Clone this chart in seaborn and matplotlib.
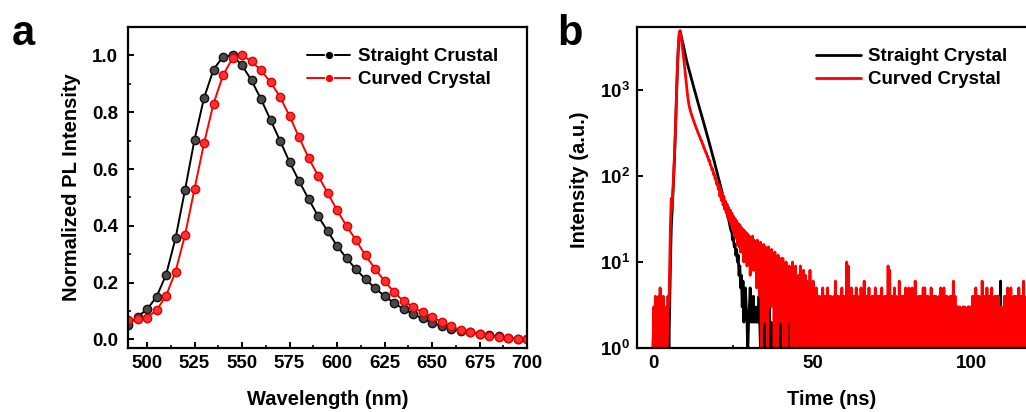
import numpy as np
import pandas as pd
import matplotlib
matplotlib.use("Agg")
import matplotlib.pyplot as plt
import seaborn as sns
from matplotlib.ticker import MultipleLocator, FixedLocator, NullLocator

# ---------------- Panel a data: PL spectra ----------------
WAVELENGTH = list(range(490, 705, 5))
STRAIGHT_PL = [0.05, 0.08, 0.106, 0.15, 0.227, 0.356, 0.526, 0.703, 0.85, 0.95,
               0.996, 1.0, 0.965, 0.912, 0.846, 0.773, 0.70, 0.625, 0.558, 0.495,
               0.435, 0.382, 0.33, 0.286, 0.247, 0.212, 0.181, 0.153, 0.129, 0.107,
               0.09, 0.074, 0.059, 0.047, 0.038, 0.031, 0.025, 0.02, 0.015, 0.011,
               0.006, 0.003, 0.0]
CURVED_PL = [0.067, 0.071, 0.077, 0.103, 0.153, 0.239, 0.367, 0.53, 0.69, 0.83,
             0.93, 0.99, 1.0, 0.98, 0.947, 0.906, 0.854, 0.787, 0.712, 0.64,
             0.577, 0.517, 0.455, 0.40, 0.349, 0.296, 0.249, 0.206, 0.167, 0.135,
             0.115, 0.095, 0.079, 0.062, 0.047, 0.033, 0.026, 0.02, 0.013, 0.008,
             0.005, 0.001, 0.0]
LABELS_A = ["Straight Crustal", "Curved Crystal"]

# ---------------- Panel b data: TRPL decay (counts per 0.25 ns bin) ----------------
TIME_STEP = 0.25
STRAIGHT_PRE = [0, 2, 0, 1, 3, 0, 2, 1, 0, 3, 0, 2, 1, 0, 3, 0, 2, 0, 1, 4]
STRAIGHT_RISE = [1, 3, 10, 25, 38, 60, 95, 160, 290, 580, 1150, 2100, 3300, 4400, 4850]
STRAIGHT_DECAY = [4450, 4000, 3650, 3350, 3030, 2750, 2480, 2250, 2060, 1900, 1750, 1620, 1500, 1380, 1280, 1180,
                  1090, 1010, 935, 865, 800, 740, 685, 635, 590, 548, 508, 472, 438, 406, 376, 348,
                  322, 298, 276, 255, 236, 218, 202, 186, 172, 159, 147, 135, 124, 114, 105, 96,
                  89, 82, 75, 69, 63, 58, 53, 48, 44, 40, 37, 34, 31, 28, 25, 23,
                  22, 18, 19, 15, 16, 12, 14, 10, 12, 7, 9, 5, 7, 3, 6, 2,
                  4, 5]
STRAIGHT_MID = [3, 2, 0, 2, 3, 5, 2, 3, 2, 4, 2, 3, 2, 2, 3, 2, 4, 2]
STRAIGHT_TAIL = ("0203021202030201020302120203020102030212020302"
                 "1202130201203102021302012031020213020120"
                 "3102021302012031020213020120310202130201"
                 "2031020213020120310202130201203102021302"
                 "0120310202130201203102021302012031020213"
                 "0201203102021302012031020213020120310202"
                 "1302012031020213020120310202130201203102"
                 "0213020120310206012031020213020120302401"
                 "0213020120310202130")

CURVED_PRE = [0, 3, 1, 4, 0, 3, 2, 4, 0, 5, 1, 3, 0, 4, 2, 0, 3, 0, 1, 4]
CURVED_RISE = [3, 9, 28, 55, 42, 68, 105, 175, 300, 600, 1200, 2200, 3400, 4500, 4900]
CURVED_DECAY = [4300, 3650, 3050, 2580, 2150, 1760, 1430, 1160, 940, 790, 690, 620, 575, 530, 500, 468,
                440, 412, 392, 366, 350, 328, 312, 296, 282, 262, 258, 236, 232, 210, 206, 190,
                186, 170, 168, 150, 152, 134, 132, 118, 120, 104, 106, 92, 95, 80, 84, 70,
                78, 58, 70, 52, 63, 46, 58, 41, 51, 37, 47, 33, 43, 30, 40, 27,
                37, 24, 34, 21, 32, 19, 30, 16, 28, 15, 27, 13, 25, 14, 24, 10,
                23, 12, 22, 9, 21, 11, 20, 7, 19, 10, 20, 8, 18, 9, 17, 5,
                18, 8, 16, 4, 17, 0, 15, 7, 16, 2, 15, 6, 14, 0, 15, 5,
                13, 3, 14, 5, 12, 1, 13, 4, 11, 0, 12, 3, 10, 2, 11]
CURVED_TAIL = ("2b193a0729381a06290527091638072604180316"
               "0415041403150414051404130416041403150414"
               "0a19041514041504031504160414050314041504"
               "1404150314040918041405140316041404150315"
               "0415041603140414051504140315041404130415"
               "0415041403140416041303130213031203031314"
               "0415041403160414051404150314041403130214"
               "04150415031404140514041603140415041403")
LABELS_B = ["Straight Crystal", "Curved Crystal"]

straight_counts = (STRAIGHT_PRE + STRAIGHT_RISE + STRAIGHT_DECAY + STRAIGHT_MID
                   + [int(c, 16) for c in STRAIGHT_TAIL])
curved_counts = CURVED_PRE + CURVED_RISE + CURVED_DECAY + [int(c, 16) for c in CURVED_TAIL]
n = min(len(straight_counts), len(curved_counts))
time_ns = np.arange(n) * TIME_STEP
# zero-count bins are drawn down to the axis floor (log axis cannot show 0)
LOG_FLOOR = 0.9

# ---------------- Style ----------------
sns.set_theme(style="ticks")
plt.rcParams["font.family"] = ["Liberation Sans", "DejaVu Sans"]
plt.rcParams["font.weight"] = "bold"
plt.rcParams["axes.labelweight"] = "bold"
plt.rcParams["text.color"] = "black"
plt.rcParams["axes.labelcolor"] = "black"
plt.rcParams["xtick.color"] = "black"
plt.rcParams["ytick.color"] = "black"
plt.rcParams["path.simplify"] = False
plt.rcParams["mathtext.fontset"] = "custom"
plt.rcParams["mathtext.rm"] = "Liberation Sans:bold"
plt.rcParams["mathtext.bf"] = "Liberation Sans:bold"
plt.rcParams["mathtext.it"] = "Liberation Sans:bold"

TICK_FS = 13.5
LABEL_FS = 14.5

W, H = 1026, 412
fig = plt.figure(figsize=(W / 100, H / 100), dpi=100)
fig.patch.set_facecolor("white")

def px_axes(l, t, r, b):
    return fig.add_axes([l / W, (H - b) / H, (r - l) / W, (b - t) / H])

ax1 = px_axes(128, 27, 527, 348)
ax2 = px_axes(637, 27, 1026, 348)

# ---------------- Panel a ----------------
df_a = pd.DataFrame({"wl": WAVELENGTH * 2,
                     "pl": STRAIGHT_PL + CURVED_PL,
                     "sample": [LABELS_A[0]] * len(WAVELENGTH) + [LABELS_A[1]] * len(WAVELENGTH)})
sns.lineplot(data=df_a, x="wl", y="pl", hue="sample",
             palette={LABELS_A[0]: "black", LABELS_A[1]: "#ff0000"},
             marker="o", markersize=6, linewidth=1.4, estimator=None, sort=False,
             ax=ax1)
for line, fc, ec in zip(ax1.lines[:2], ["#4a4a4a", "#ff3030"], ["#111111", "#e00000"]):
    line.set_markerfacecolor(fc)
    line.set_markeredgecolor(ec)
    line.set_markeredgewidth(1.0)

ax1.set_xlim(490, 700)
ax1.set_ylim(-0.03, 1.1)
ax1.xaxis.set_major_locator(MultipleLocator(25))
ax1.xaxis.set_minor_locator(MultipleLocator(12.5))
ax1.yaxis.set_major_locator(MultipleLocator(0.2))
ax1.yaxis.set_minor_locator(MultipleLocator(0.1))
ax1.set_xlabel("Wavelength (nm)", fontsize=LABEL_FS, fontweight="bold", labelpad=13)
ax1.set_ylabel("Normalized PL Intensity", fontsize=LABEL_FS, fontweight="bold", labelpad=8)

leg1 = ax1.legend(loc="upper left", bbox_to_anchor=(307 / W, (H - 48) / H),
                  bbox_transform=fig.transFigure, frameon=False, fontsize=TICK_FS,
                  handlelength=2.3, handletextpad=0.4, labelspacing=0.32,
                  borderpad=0, borderaxespad=0)
for t in leg1.get_texts():
    t.set_color("black")

# ---------------- Panel b ----------------
df_b = pd.DataFrame({"t": np.concatenate([time_ns, time_ns]),
                     "counts": straight_counts[:n] + curved_counts[:n],
                     "sample": [LABELS_B[0]] * n + [LABELS_B[1]] * n})
df_b["shown"] = df_b["counts"].clip(lower=LOG_FLOOR)
sns.lineplot(data=df_b, x="t", y="shown", hue="sample",
             palette={LABELS_B[0]: "black", LABELS_B[1]: "#ff0000"},
             linewidth=2.0, estimator=None, sort=False, ax=ax2)
ax2.set_yscale("log")
ax2.set_xlim(-5, 117)
ax2.set_ylim(1, 5400)
ax2.xaxis.set_major_locator(FixedLocator([0, 50, 100]))
ax2.xaxis.set_minor_locator(FixedLocator([25, 75]))
ax2.yaxis.set_major_locator(FixedLocator([1, 10, 100, 1000]))
ax2.yaxis.set_minor_locator(NullLocator())
ax2.set_yticklabels([r"$\mathbf{10^{0}}$", r"$\mathbf{10^{1}}$",
                     r"$\mathbf{10^{2}}$", r"$\mathbf{10^{3}}$"])
ax2.set_xlabel("Time (ns)", fontsize=LABEL_FS, fontweight="bold", labelpad=13)
ax2.set_ylabel("Intensity (a.u.)", fontsize=LABEL_FS, fontweight="bold", labelpad=8)
ax2.yaxis.label.set_y(0.523)
ax2.spines["right"].set_visible(False)

leg2 = ax2.legend(loc="upper left", bbox_to_anchor=(816 / W, (H - 48) / H),
                  bbox_transform=fig.transFigure, frameon=False, fontsize=TICK_FS,
                  handlelength=2.4, handletextpad=0.35, labelspacing=0.32,
                  borderpad=0, borderaxespad=0)
for lh in leg2.get_lines():
    lh.set_linewidth(2.0)
for t in leg2.get_texts():
    t.set_color("black")

# ---------------- Common axis styling ----------------
for ax in (ax1, ax2):
    for sp in ax.spines.values():
        sp.set_linewidth(1.6)
        sp.set_color("black")
        sp.set_zorder(5)
    ax.tick_params(axis="both", which="major", direction="in", length=4.5, width=1.4,
                   labelsize=TICK_FS, colors="black")
    ax.tick_params(axis="both", which="minor", direction="in", length=2.5, width=1.2)
    ax.tick_params(axis="x", which="major", pad=5)
    ax.tick_params(axis="y", which="major", pad=7)
    for lbl in ax.get_xticklabels() + ax.get_yticklabels():
        lbl.set_fontweight("bold")
    ax.set_facecolor("white")
ax2.tick_params(axis="y", which="major", pad=5)
ax1.tick_params(top=False, right=False)
ax2.tick_params(top=False, right=False)

fig.text(12 / W, (H - 45) / H, "a", fontsize=30, fontweight="bold", ha="left", va="baseline")
fig.text(557 / W, (H - 45) / H, "b", fontsize=30, fontweight="bold", ha="left", va="baseline")

fig.savefig("out.png", dpi=100, facecolor="white")
